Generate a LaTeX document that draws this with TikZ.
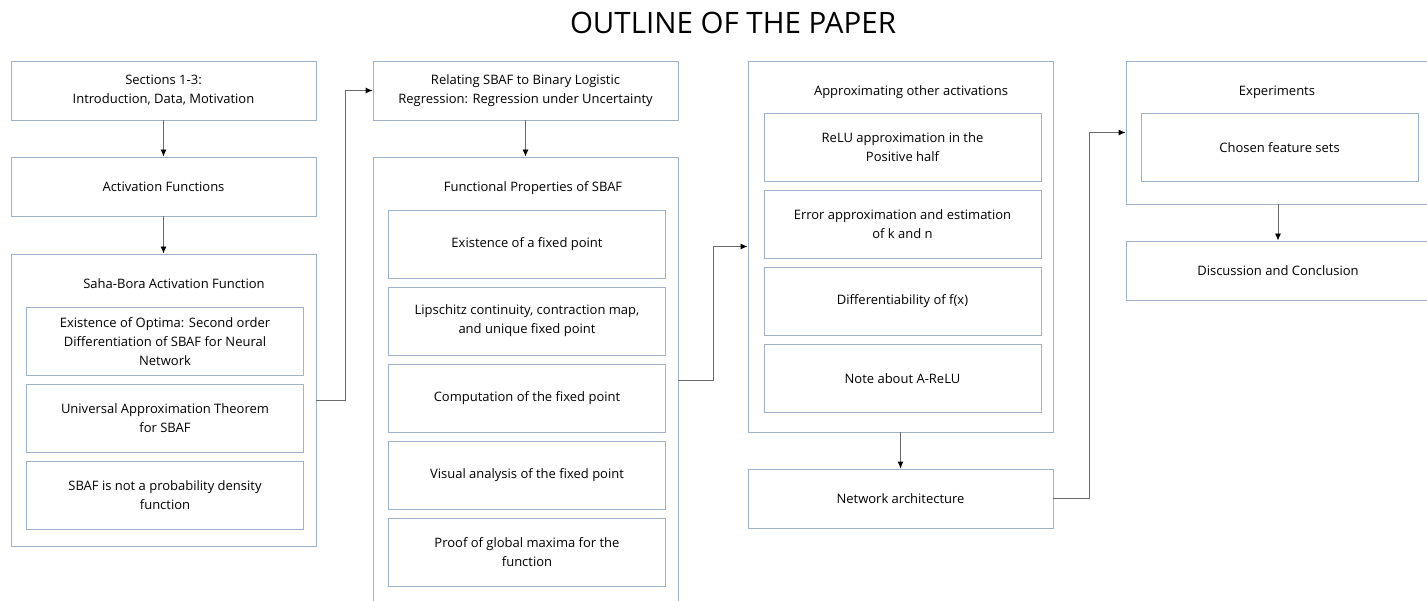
\documentclass[tikz,border=0pt]{standalone}
\usepackage{fontspec}
\setmainfont{Open Sans}
\usetikzlibrary{arrows.meta,calc}
\definecolor{boxline}{HTML}{9FB2CB}
\definecolor{connline}{HTML}{6A6A6A}
\tikzset{
  box/.style={draw=boxline, line width=0.9pt, fill=none, inner sep=0pt, align=center,
    font=\fontsize{13}{19}\selectfont, text=black},
  bigbox/.style={box, minimum width=305pt},
  inbox/.style={box, minimum width=277pt, minimum height=68pt},
  boxtitle/.style={font=\fontsize{13}{19}\selectfont, text=black, inner sep=0pt},
  conn/.style={draw=connline, line width=0.9pt, -{Latex[length=7pt,width=6pt,color=black]}},
}
\begin{document}
\begin{tikzpicture}[x=1pt,y=-1pt]
\useasboundingbox (0,0) rectangle (1427,601);
\clip (0,0) rectangle (1427,601);
\fill[white] (0,0) rectangle (1427,601);

\node[font=\fontsize{29.5}{34}\selectfont, text=black, inner sep=0pt] (title) at (733,23) {OUTLINE OF THE PAPER};

% Column 1
\node[bigbox, minimum height=59pt] (A) at (163.5,90.5) {Sections 1-3:\\Introduction, Data, Motivation};
\node[bigbox, minimum height=59pt] (B) at (163.5,186.5) {Activation Functions};
\node[bigbox, minimum height=292pt] (C) at (163.5,400) {};
\node[boxtitle] (Ct) at (174,284) {Saha-Bora Activation Function};
\node[inbox] (C1) at (165,341.5) {Existence of Optima: Second order\\Differentiation of SBAF for Neural\\Network};
\node[inbox] (C2) at (165,418) {Universal Approximation Theorem\\for SBAF};
\node[inbox] (C3) at (165,495) {SBAF is not a probability density\\function};

% Column 2
\node[bigbox, minimum height=59pt] (D) at (525.5,90.5) {Relating SBAF to Binary Logistic\\Regression: Regression under Uncertainty};
\node[bigbox, minimum height=446pt] (E) at (525.5,380) {};
\node[boxtitle] (Et) at (533,188) {Functional Properties of SBAF};
\node[inbox] (E1) at (527,244) {Existence of a fixed point};
\node[inbox] (E2) at (527,321) {Lipschitz continuity, contraction map,\\and unique fixed point};
\node[inbox] (E3) at (527,398) {Computation of the fixed point};
\node[inbox] (E4) at (527,475) {Visual analysis of the fixed point};
\node[inbox] (E5) at (527,552) {Proof of global maxima for the\\function};

% Column 3
\node[bigbox, minimum height=371pt] (F) at (900.5,246.5) {};
\node[boxtitle] (Ft) at (911,92) {Approximating other activations};
\node[inbox] (F1) at (902.5,147.5) {ReLU approximation in the\\Positive half};
\node[inbox] (F2) at (902.5,224.5) {Error approximation and estimation\\of k and n};
\node[inbox] (F3) at (902.5,301.5) {Differentiability of f(x)};
\node[inbox] (F4) at (902.5,378.5) {Note about A-ReLU};
\node[bigbox, minimum height=59pt] (G) at (900.5,498.5) {Network architecture};

% Column 4
\node[box, minimum width=304pt, minimum height=143pt] (H) at (1278,132.5) {};
\node[boxtitle] (Ht) at (1277,92) {Experiments};
\node[inbox] (H1) at (1279.5,147.5) {Chosen feature sets};
\node[box, minimum width=304pt, minimum height=59pt] (I) at (1278,270.5) {Discussion and Conclusion};

% Connectors
\draw[conn] (A) -- (B);
\draw[conn] (B) -- (C);
\draw[conn] (C.east) -- ++(29,0) |- (D.west);
\draw[conn] (D) -- (E.north -| D.south);
\draw[conn] (E.east) -- ++(35,0) |- (F.west);
\draw[conn] (F) -- (G);
\draw[conn] (G.east) -- ++(36,0) |- (H.west);
\draw[conn] (H) -- (I);
\end{tikzpicture}
\end{document}
